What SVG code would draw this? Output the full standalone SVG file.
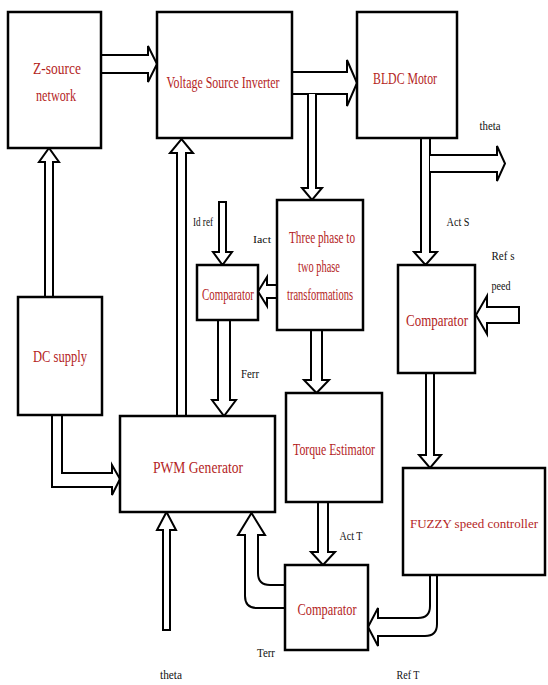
<svg xmlns="http://www.w3.org/2000/svg" width="548" height="685" viewBox="0 0 548 685">
<style>
.box{fill:#fff;stroke:#000;stroke-width:2.5}
.arr{fill:#fff;stroke:#000;stroke-width:2;stroke-linejoin:miter}
.t{font-family:"Liberation Serif","Times New Roman",serif;font-size:17px;fill:#b41e1e;text-anchor:middle}
.l{font-family:"Liberation Serif","Times New Roman",serif;font-size:13px;fill:#111;text-anchor:middle}
</style>
<rect width="548" height="685" fill="#fff"/>
<g id="connectors">
<path class="arr" d="M101,55 H148 V46 L157,64 L148,82 V73 H101 Z"/>
<path class="arr" d="M292,72 H347 V60 L357,83 L347,106 V94 H292 Z"/>
<path class="arr" d="M308,94 V188 H302 L312,200 L322,188 H316 V94"/>
<path class="arr" d="M421,138 V252 H414 L425.5,265 L437,252 H430 V138 Z"/>
<path class="arr" d="M430,155 H497 V146 L505,163.5 L497,181 V172 H430"/>
<path class="arr" d="M519,307 H487 V296 L476,315 L487,334 V323 H519 Z"/>
<path class="arr" d="M426,373 V455 H419 L430,468 L441,455 H434 V373 Z"/>
<path class="arr" d="M277,285 H267 V277 L258,291.5 L267,306 V298 H277 Z"/>
<path class="arr" d="M219,202 V252 H213 L222.5,265 L232,252 H226 V202 Z"/>
<path class="arr" d="M218,320 V400 H212 L224,416 L236,400 H230 V320 Z"/>
<path class="arr" d="M177,416 V153 H170 L181.5,139 L193,153 H186 V416 Z"/>
<path class="arr" d="M45,297 V162 H39 L49,148 L59,162 H53 V297 Z"/>
<path class="arr" d="M52,415 V487 H112 V495 L120,479 L112,465 V473 H62 V415 Z"/>
<path class="arr" d="M311,330 V380 H304 L316.5,393 L329,380 H322 V330 Z"/>
<path class="arr" d="M318,502 V552 H311 L323,565 L335,552 H328 V502 Z"/>
<path class="arr" d="M285,585 H270 Q258,585 258,573 V535 H265 L251.5,513 L238,535 H245 V596 Q245,608 257,608 H285 Z"/>
<path class="arr" d="M163,630 V530 H157 L166.5,512 L176,530 H170 V630 Z"/>
<path class="arr" d="M430,575 V606 Q430,618 418,618 H378 V608 L368,627 L378,646 V636 H425 Q437,636 437,624 V575 Z"/>
</g>
<g id="zsource"><rect class="box" x="8" y="12" width="93" height="136"/><text class="t" x="57" y="74" textLength="48" lengthAdjust="spacingAndGlyphs">Z-source</text><text class="t" x="56" y="101" textLength="40" lengthAdjust="spacingAndGlyphs">network</text></g>
<g id="vsi"><rect class="box" x="157" y="12" width="135" height="126"/><text class="t" x="223" y="88" textLength="113" lengthAdjust="spacingAndGlyphs">Voltage Source Inverter</text></g>
<g id="bldc"><rect class="box" x="357" y="12" width="100" height="126"/><text class="t" x="405" y="84" textLength="64" lengthAdjust="spacingAndGlyphs">BLDC Motor</text></g>
<g id="threephase"><rect class="box" x="277" y="200" width="86" height="130"/><text class="t" x="322" y="243" textLength="66" lengthAdjust="spacingAndGlyphs">Three phase to</text><text class="t" x="319" y="272" textLength="42" lengthAdjust="spacingAndGlyphs">two phase</text><text class="t" x="320" y="300" textLength="66" lengthAdjust="spacingAndGlyphs">transformations</text></g>
<g id="comp1"><rect class="box" x="197" y="265" width="61" height="55"/><text class="t" x="228" y="300" textLength="52" lengthAdjust="spacingAndGlyphs">Comparator</text></g>
<g id="comp2"><rect class="box" x="398" y="265" width="77" height="108"/><text class="t" x="437" y="326" textLength="62" lengthAdjust="spacingAndGlyphs">Comparator</text></g>
<g id="dcsupply"><rect class="box" x="18" y="297" width="84" height="118"/><text class="t" x="60" y="362" textLength="54" lengthAdjust="spacingAndGlyphs">DC supply</text></g>
<g id="pwm"><rect class="box" x="120" y="416" width="155" height="96"/><text class="t" x="198" y="473" textLength="90" lengthAdjust="spacingAndGlyphs">PWM Generator</text></g>
<g id="torque"><rect class="box" x="286" y="393" width="96" height="109"/><text class="t" x="334" y="455" textLength="82" lengthAdjust="spacingAndGlyphs">Torque Estimator</text></g>
<g id="fuzzy"><rect class="box" x="403" y="468" width="142" height="107"/><text class="t" x="474" y="528" style="font-size:13px">FUZZY speed controller</text></g>
<g id="comp3"><rect class="box" x="285" y="565" width="83" height="85"/><text class="t" x="327" y="615" textLength="59" lengthAdjust="spacingAndGlyphs">Comparator</text></g>
<g id="labels">
<text class="l" x="490" y="130" textLength="21" lengthAdjust="spacingAndGlyphs">theta</text>
<text class="l" x="458" y="226" textLength="23" lengthAdjust="spacingAndGlyphs">Act S</text>
<text class="l" x="503" y="260" textLength="23" lengthAdjust="spacingAndGlyphs">Ref s</text>
<text class="l" x="501" y="290" textLength="19" lengthAdjust="spacingAndGlyphs">peed</text>
<text class="l" x="203" y="226" textLength="20" lengthAdjust="spacingAndGlyphs">Id ref</text>
<text class="l" x="262" y="243" style="font-size:10px" textLength="18" lengthAdjust="spacingAndGlyphs">Iact</text>
<text class="l" x="250" y="378" textLength="18" lengthAdjust="spacingAndGlyphs">Ferr</text>
<text class="l" x="351" y="540" textLength="23" lengthAdjust="spacingAndGlyphs">Act T</text>
<text class="l" x="266" y="657" textLength="18" lengthAdjust="spacingAndGlyphs">Terr</text>
<text class="l" x="171" y="679" textLength="22" lengthAdjust="spacingAndGlyphs">theta</text>
<text class="l" x="408" y="679" textLength="23" lengthAdjust="spacingAndGlyphs">Ref T</text>
</g>
</svg>
